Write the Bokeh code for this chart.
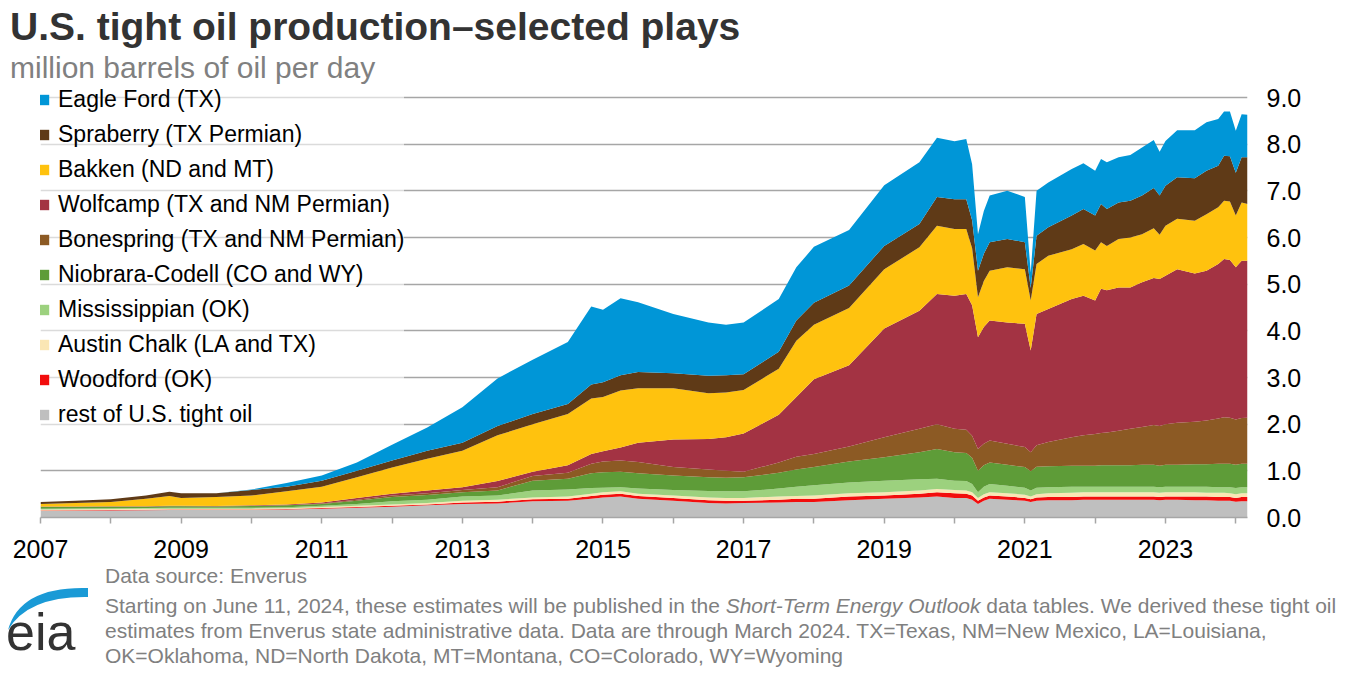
from bokeh.plotting import figure
from bokeh.models import (ColumnDataSource, Range1d, FixedTicker, Legend, LegendItem, Div)
from bokeh.layouts import column
from bokeh.embed import file_html
from bokeh.resources import INLINE

# ---------------- data (million barrels per day) ----------------
months = ["2007-01", "2007-07", "2008-01", "2008-07", "2008-11", "2009-01", "2009-07",
          "2010-01", "2010-07", "2011-01", "2011-07", "2012-01", "2012-07", "2013-01",
          "2013-07", "2014-01", "2014-07", "2014-11", "2015-01", "2015-04", "2015-07",
          "2016-01", "2016-07", "2016-10", "2017-01", "2017-07", "2017-10", "2018-01",
          "2018-07", "2019-01", "2019-07", "2019-10", "2020-01", "2020-03", "2020-04",
          "2020-05", "2020-06", "2020-07", "2020-10", "2021-01", "2021-02", "2021-03",
          "2021-05", "2021-09", "2021-11", "2022-01", "2022-02", "2022-03", "2022-05",
          "2022-07", "2022-09", "2022-11", "2022-12", "2023-01", "2023-03", "2023-06",
          "2023-08", "2023-10", "2023-11", "2023-12", "2024-01", "2024-02", "2024-03"]

rest_us = [.14, .145, .15, .155, .16, .16, .16, .16, .17, .19, .21, .23, .26, .29, .30, .35, .36,
           .40, .43, .45, .40, .36, .31, .30, .31, .32, .33, .33, .37, .40, .43, .45, .42, .42,
           .38, .29, .36, .40, .38, .36, .33, .36, .37, .37, .38, .38, .38, .38, .38, .38, .38,
           .38, .37, .38, .38, .37, .37, .36, .36, .36, .34, .35, .35]
woodford = [.01, .01, .01, .01, .01, .01, .01, .01, .01, .015, .015, .02, .02, .03, .04, .04, .04,
            .06, .06, .06, .06, .06, .06, .06, .05, .06, .07, .07, .08, .07, .08, .09, .10, .09,
            .09, .07, .07, .07, .07, .06, .06, .07, .07, .07, .07, .07, .07, .07, .07, .07, .07,
            .07, .07, .07, .07, .08, .08, .08, .08, .08, .08, .09, .09]
austin_chalk = [.02, .02, .02, .02, .02, .02, .02, .02, .02, .02, .025, .03, .03, .04, .04, .04,
                .05, .05, .05, .05, .05, .05, .06, .06, .06, .07, .06, .07, .07, .07, .07, .07,
                .07, .07, .07, .06, .07, .07, .07, .07, .06, .07, .08, .09, .09, .09, .09, .09,
                .09, .09, .09, .09, .09, .09, .09, .09, .08, .09, .09, .08, .08, .08, .08]
mississippian = [.02, .02, .02, .02, .02, .02, .02, .02, .02, .025, .04, .07, .07, .09, .09, .15,
                 .15, .12, .10, .09, .11, .12, .14, .14, .14, .17, .20, .22, .23, .25, .24, .22,
                 .20, .20, .18, .12, .16, .18, .16, .15, .13, .14, .13, .13, .12, .12, .12, .12,
                 .12, .12, .12, .12, .12, .12, .12, .12, .13, .12, .12, .13, .13, .13, .13]
niobrara = [.035, .03, .03, .025, .03, .03, .025, .035, .04, .04, .07, .09, .10, .09, .11, .21,
            .23, .32, .33, .33, .33, .31, .29, .29, .30, .34, .37, .39, .45, .50, .58, .64, .61,
            .60, .56, .46, .46, .46, .45, .44, .41, .45, .45, .45, .45, .45, .46, .46, .46, .46,
            .47, .47, .46, .47, .47, .48, .48, .50, .50, .50, .50, .50, .50]
bonespring = [.005, .005, .005, .005, .005, .005, .005, .005, .005, .01, .02, .03, .04, .05, .07,
              .10, .13, .20, .23, .24, .24, .18, .17, .15, .12, .22, .27, .28, .32, .43, .50, .53,
              .50, .50, .47, .47, .46, .47, .45, .43, .41, .46, .52, .61, .65, .68, .69, .70, .74,
              .78, .81, .85, .85, .87, .90, .91, .94, .97, 1.0, .99, .97, .98, .99]
wolfcamp = [.005, .005, .005, .005, .005, .005, .005, .01, .015, .02, .04, .04, .06, .06, .13, .09,
            .16, .21, .22, .28, .41, .59, .65, .72, .82, 1.02, 1.28, 1.60, 1.74, 2.33, 2.53, 2.79,
            2.85, 2.91, 2.80, 2.39, 2.50, 2.57, 2.60, 2.64, 2.18, 2.81, 2.85, 2.96, 2.99, 2.86,
            3.09, 3.05, 3.07, 3.03, 3.10, 3.15, 3.15, 3.18, 3.29, 3.18, 3.21, 3.31, 3.39, 3.38,
            3.26, 3.37, 3.36]
bakken = [.055, .075, .09, .16, .21, .17, .195, .21, .28, .34, .44, .56, .68, .78, .98, 1.02, 1.10,
          1.19, 1.16, 1.22, 1.17, 1.10, .98, .96, .93, .99, 1.21, 1.17, 1.23, 1.27, 1.36, 1.46,
          1.43, 1.39, 1.22, .86, .99, 1.07, 1.18, 1.17, 1.07, 1.07, 1.14, 1.07, 1.11, 1.07, 1.0,
          .95, 1.04, 1.07, 1.03, 1.07, .95, 1.07, 1.08, 1.13, 1.21, 1.22, 1.25, 1.25, 1.11, 1.25,
          1.22]
spraberry = [.04, .05, .06, .07, .09, .10, .08, .12, .10, .13, .14, .15, .17, .17, .20, .22, .21,
             .30, .32, .33, .35, .32, .38, .37, .34, .36, .43, .47, .48, .50, .50, .62, .64, .64,
             .60, .57, .58, .61, .61, .58, .27, .61, .61, .72, .75, .75, .82, .79, .78, .79, .83,
             .86, .84, .86, .89, .91, .93, .89, .96, .97, .92, .97, 1.0]
eagle_ford = [0, 0, 0, 0, 0, 0, 0, .01, .08, .11, .18, .34, .50, .76, 1.02, 1.16, 1.33, 1.67, 1.55,
              1.65, 1.49, 1.27, 1.14, 1.08, 1.11, 1.13, 1.14, 1.20, 1.19, 1.30, 1.32, 1.27, 1.24,
              1.29, 1.20, .78, .92, 1.0, 1.03, .97, .33, .96, .96, 1.0, .98, .96, .96, 1.0, .97,
              .98, 1.03, 1.03, .94, .96, 1.01, 1.03, 1.04, 1.0, .95, .96, .90, .92, .91]

# stacking order, bottom first
series_keys = ["rest_us", "woodford", "austin_chalk", "mississippian", "niobrara",
               "bonespring", "wolfcamp", "bakken", "spraberry", "eagle_ford"]
series_labels = ["rest of U.S. tight oil", "Woodford (OK)", "Austin Chalk (LA and TX)",
                 "Mississippian (OK)", "Niobrara-Codell (CO and WY)",
                 "Bonespring (TX and NM Permian)", "Wolfcamp (TX and NM Permian)",
                 "Bakken (ND and MT)", "Spraberry (TX Permian)", "Eagle Ford (TX)"]
series_colors = ["#bfbfbf", "#f20d0d", "#fae6b4", "#9cd17e", "#5e9c38",
                 "#8c5a24", "#a33343", "#ffc20e", "#5f3a17", "#0096d7"]

x_ticks = list(range(2007, 2025))
y_ticks = list(range(0, 10))

title_text = "U.S. tight oil production\u2013selected plays"
subtitle_text = "million barrels of oil per day"
source_text = "Data source: Enverus"
note_l1 = ("Starting on June 11, 2024, these estimates will be published in the "
           "<i>Short-Term Energy Outlook</i> data tables. We derived these tight oil")
note_l2 = ("estimates from Enverus state administrative data. Data are through March 2024. "
           "TX=Texas, NM=New Mexico, LA=Louisiana,")
note_l3 = "OK=Oklahoma, ND=North Dakota, MT=Montana, CO=Colorado, WY=Wyoming"

# ---------------- build ----------------
def to_year(s):
    y, m = s.split("-")
    return int(y) + (int(m) - 1) / 12.0

xs = [to_year(m) for m in months]
data = dict(x=xs)
for k, v in zip(series_keys, [rest_us, woodford, austin_chalk, mississippian, niobrara,
                              bonespring, wolfcamp, bakken, spraberry, eagle_ford]):
    data[k] = v
src = ColumnDataSource(data)

FONT = "Liberation Sans"
PAGE_W = 1349
TOP_H = 85            # title block height (page y 0..85)
FRAME_H = 432         # frame page y 85..517
BOTTOM_B = 50         # x-axis area
FIG_H = FRAME_H + BOTTOM_B
FOOT_H = 677 - TOP_H - FIG_H
PX_PER_UNIT = 420 / 9.0
y_top = FRAME_H / PX_PER_UNIT

p = figure(width=PAGE_W, height=FIG_H, title=None,
           x_range=Range1d(xs[0], xs[-1]), y_range=Range1d(0, y_top),
           y_axis_location="right", output_backend="svg", toolbar_location=None,
           min_border_left=40, min_border_right=102, min_border_top=0,
           min_border_bottom=BOTTOM_B)
p.outline_line_color = None
p.background_fill_color = "white"
p.border_fill_color = "white"

rends = p.varea_stack(stackers=series_keys, x="x", color=series_colors, source=src)

xa = p.xaxis[0]
xa.ticker = FixedTicker(ticks=x_ticks)
xa.major_label_overrides = {t: (str(t) if t % 2 == 1 else "") for t in x_ticks}
xa.axis_line_color = "#a6a6a6"
xa.axis_line_width = 1.5
xa.major_tick_line_color = "#a6a6a6"
xa.major_tick_line_width = 1.5
xa.major_tick_out = 6
xa.major_tick_in = 0
xa.minor_tick_line_color = None
xa.major_label_text_font = FONT
xa.major_label_text_font_size = "25px"
xa.major_label_text_color = "black"
xa.major_label_standoff = 16

ya = p.yaxis[0]
ya.ticker = FixedTicker(ticks=y_ticks)
ya.major_label_overrides = {t: f"{t}.0" for t in y_ticks}
ya.axis_line_color = None
ya.major_tick_line_color = None
ya.minor_tick_line_color = None
ya.major_tick_out = 0
ya.major_label_text_font = FONT
ya.major_label_text_font_size = "25px"
ya.major_label_text_color = "black"
ya.major_label_standoff = 19

p.xgrid.visible = False
p.ygrid.grid_line_color = "#a6a6a6"
p.ygrid.grid_line_width = 1.5

items = [LegendItem(label=lab, renderers=[r]) for lab, r in zip(series_labels, rends)][::-1]
leg = Legend(items=items, location=(-3, 89), padding=5, spacing=7, margin=0,
             label_height=28, glyph_height=13, glyph_width=13, label_standoff=8,
             label_text_font=FONT, label_text_font_size="23px", label_text_color="black",
             background_fill_color="white", background_fill_alpha=0.6,
             border_line_color=None)
p.add_layout(leg)

# ---------------- text blocks ----------------
def top_of(baseline, size):
    # top of a line box with line-height 1em so that the baseline lands at `baseline`
    return baseline - 0.8465 * size

ff = "font-family:'Liberation Sans',Arial,sans-serif;white-space:nowrap;"
top_html = (
    f'<div style="position:relative;width:{PAGE_W}px;height:{TOP_H}px;{ff}">'
    f'<div style="position:absolute;left:10px;top:{top_of(40, 39):.1f}px;font-size:39px;'
    f'line-height:39px;font-weight:bold;color:#333333;">{title_text}</div>'
    f'<div style="position:absolute;left:10px;top:{top_of(78, 30):.1f}px;font-size:30px;'
    f'line-height:30px;color:#808080;">{subtitle_text}</div></div>')

y0 = TOP_H + FIG_H
def span(text, baseline, size=21, color="#808080", left=105, extra=""):
    return (f'<div style="position:absolute;left:{left}px;top:{top_of(baseline - y0, size):.1f}px;'
            f'font-size:{size}px;line-height:{size}px;color:{color};{extra}">{text}</div>')

swoosh = (f'<svg style="position:absolute;left:0;top:0" width="100" height="{FOOT_H}">'
          f'<path d="M 8 {630 - y0} Q 20 {586 - y0} 88 {588 - y0} L 88 {597 - y0} '
          f'Q 28 {596 - y0} 8 {630 - y0} Z" fill="#1a9ad6"/></svg>')
foot_html = (
    f'<div style="position:relative;width:{PAGE_W}px;height:{FOOT_H}px;{ff}">'
    + span(source_text, 583)
    + span(note_l1, 613)
    + span(note_l2, 638)
    + span(note_l3, 663)
    + swoosh
    + span("eia", 650, size=52, color="#333333", left=6)
    + '</div>')

top_div = Div(text=top_html, width=PAGE_W, height=TOP_H, margin=0)
foot_div = Div(text=foot_html, width=PAGE_W, height=FOOT_H, margin=0)

layout = column(top_div, p, foot_div, spacing=0)
open("out.html", "w").write(file_html(layout, INLINE))
